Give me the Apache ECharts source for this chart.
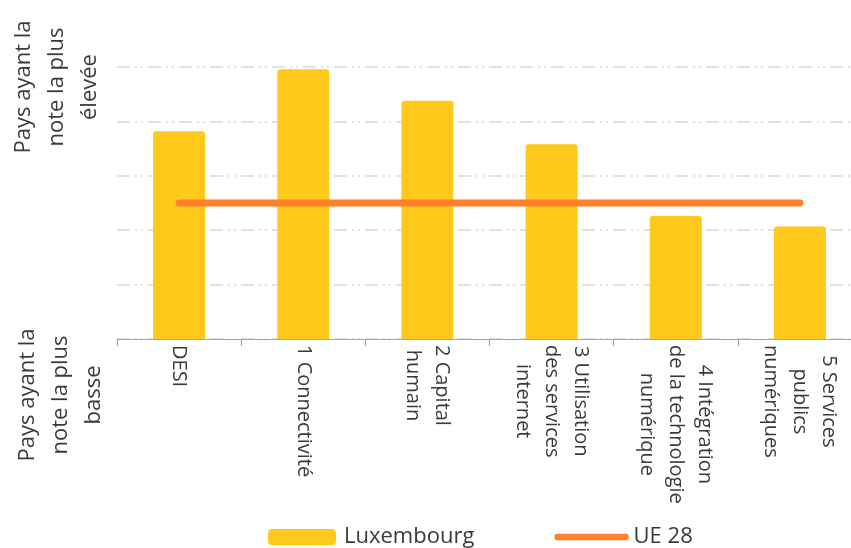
<!DOCTYPE html>
<html>
<head>
<meta charset="utf-8">
<script src="https://cdn.jsdelivr.net/npm/echarts@6/dist/echarts.min.js"></script>
<style>html,body{margin:0;padding:0;background:#fff;}#c{width:851px;height:548px;}</style>
</head>
<body>
<div id="c"></div>
<script>
const categories = ['DESI', '1 Connectivité', '2 Capital\nhumain', '3 Utilisation\ndes services\ninternet', '4 Intégration\nde la technologie\nnumérique', '5 Services\npublics\nnumériques'];
const luxembourg = [3.82, 4.96, 4.38, 3.58, 2.26, 2.07];
const ue28 = [2.5, 2.5, 2.5, 2.5, 2.5, 2.5];
const yTop = 'Pays ayant la\nnote la plus\nélevée';
const yBottom = 'Pays ayant la\nnote la plus\nbasse';

const FONT = 'Open Sans';
const TXT = '#3a3a3a';
const chart = echarts.init(document.getElementById('c'), null, {renderer: 'canvas'});
chart.setOption({
  animation: false,
  backgroundColor: '#fff',
  grid: {left: 117, top: 67, width: 745, bottom: 209, containLabel: false, outerBoundsMode: 'none'},
  xAxis: {
    type: 'category',
    data: categories,
    axisLine: {show: true, lineStyle: {color: '#a6a6a6', width: 1.2}},
    axisTick: {show: true, length: 7, lineStyle: {color: '#a6a6a6', width: 1.2}},
    axisLabel: {
      interval: 0, rotate: -90, margin: 6,
      formatter: function (v) { return v.split('\n').map(l => '{c|' + l + '}').join('\n'); },
      rich: {c: {align: 'center', fontFamily: FONT, fontSize: 20, lineHeight: 29, color: TXT}}
    }
  },
  yAxis: {
    type: 'value', min: 0, max: 5, interval: 1,
    axisLine: {show: false}, axisTick: {show: false}, axisLabel: {show: false},
    splitLine: {show: true, lineStyle: {color: '#d9d9d9', width: 1.5, type: [13, 5, 2, 4, 2, 5]}}
  },
  legend: {
    left: 268, top: 526, padding: 0, itemWidth: 68, itemHeight: 16, itemGap: 80,
    textStyle: {fontFamily: FONT, fontSize: 22, color: TXT, padding: [0, 0, 0, 3]},
    data: [
      {name: 'Luxembourg', icon: 'roundRect'},
      {name: 'UE 28', itemStyle: {opacity: 0}, lineStyle: {width: 6.5, cap: 'round', color: '#FF7F2A'}}
    ]
  },
  graphic: [
    {type: 'text', x: 57, y: 87, rotation: Math.PI / 2,
     style: {text: yTop, fontFamily: FONT, fontSize: 22, lineHeight: 33, fill: TXT, align: 'center', verticalAlign: 'middle'}},
    {type: 'text', x: 61, y: 395, rotation: Math.PI / 2,
     style: {text: yBottom, fontFamily: FONT, fontSize: 22, lineHeight: 33, fill: TXT, align: 'center', verticalAlign: 'middle'}}
  ],
  series: [
    {name: 'Luxembourg', type: 'bar', data: luxembourg, barWidth: 52,
     itemStyle: {color: '#FFC91B', borderRadius: [3, 3, 0, 0]}},
    {name: 'UE 28', type: 'line', data: ue28, symbol: 'none', z: 5,
     itemStyle: {color: '#FF7F2A'},
     lineStyle: {color: '#FF7F2A', width: 7, cap: 'round'}}
  ]
});
</script>
</body>
</html>
